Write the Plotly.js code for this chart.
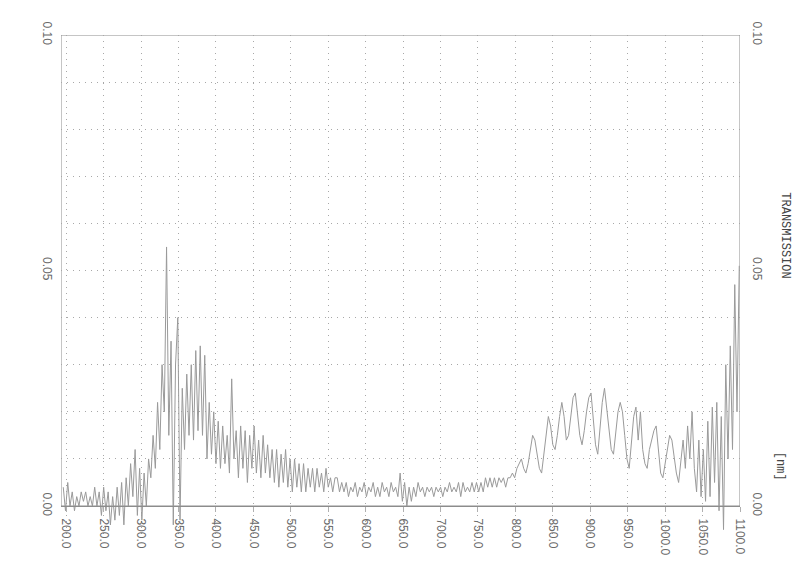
<!DOCTYPE html>
<html><head><meta charset="utf-8">
<script src="https://cdn.plot.ly/plotly-3.0.1.min.js"></script>
<style>html,body{margin:0;padding:0;background:#fff;}#chart{width:800px;height:588px;}</style>
</head><body><div id="chart"></div>
<script>
const wavelengths = [
196,199,202,205,208,211,214,217,220,223,
226,229,232,235,238,241,244,247,250,253,
256,259,262,265,268,271,274,277,280,283,
286,289,292,295,298,301,304,307,310,313,
316,319,322,325,328,331,334,337,340,343,
346,349,352,355,358,361,364,367,370,373,
376,379,382,385,388,391,394,397,400,403,
406,409,412,415,418,421,424,427,430,433,
436,439,442,445,448,451,454,457,460,463,
466,469,472,475,478,481,484,487,490,493,
496,499,502,505,508,511,514,517,520,523,
526,529,532,535,538,541,544,547,550,553,
556,559,562,565,568,571,574,577,580,583,
586,589,592,595,598,601,604,607,610,613,
616,619,622,625,628,631,634,637,640,643,
646,649,652,655,658,661,664,667,670,673,
676,679,682,685,688,691,694,697,700,703,
706,709,712,715,718,721,724,727,730,733,
736,739,742,745,748,751,754,757,760,763,
766,769,772,775,778,781,784,787,790,793,
796,799,802,805,808,811,814,817,820,823,
826,829,832,835,838,841,844,847,850,853,
856,859,862,865,868,871,874,877,880,883,
886,889,892,895,898,901,904,907,910,913,
916,919,922,925,928,931,934,937,940,943,
946,949,952,955,958,961,964,967,970,973,
976,979,982,985,988,991,994,997,1000,1003,
1006,1009,1012,1015,1018,1021,1024,1027,1030,1033,
1036,1039,1042,1045,1048,1051,1054,1057,1060,1063,
1066,1069,1072,1075,1078,1081,1084,1087,1090,1093,
1096,1099];

const transmission = [
0.004,-0.001,0.005,0.000,0.003,-0.001,0.002,0.000,0.003,0.001,
0.003,0.000,0.002,0.000,0.004,0.000,0.003,-0.002,0.004,-0.001,
0.003,-0.004,0.002,-0.003,0.004,-0.002,0.005,-0.004,0.006,0.000,
0.009,0.002,0.012,-0.002,0.008,-0.003,0.007,0.000,0.010,0.006,
0.015,0.008,0.022,0.012,0.030,0.020,0.055,0.015,0.035,-0.004,
0.030,0.040,-0.003,0.025,0.012,0.028,0.015,0.030,0.014,0.033,
0.016,0.034,0.015,0.032,0.010,0.022,0.011,0.020,0.009,0.018,
0.008,0.017,0.009,0.015,0.007,0.027,0.010,0.016,0.006,0.017,
0.008,0.016,0.005,0.015,0.008,0.017,0.007,0.014,0.006,0.015,
0.007,0.013,0.006,0.012,0.005,0.012,0.004,0.011,0.005,0.012,
0.004,0.010,0.003,0.010,0.004,0.009,0.003,0.009,0.003,0.008,
0.004,0.008,0.003,0.008,0.004,0.007,0.003,0.008,0.004,0.006,
0.003,0.006,0.006,0.003,0.005,0.003,0.005,0.002,0.004,0.003,
0.005,0.002,0.004,0.003,0.005,0.002,0.004,0.003,0.005,0.002,
0.004,0.002,0.005,0.003,0.004,0.002,0.005,0.003,0.004,0.002,
0.007,0.001,0.005,0.000,0.004,0.001,0.004,0.002,0.005,0.003,
0.004,0.002,0.004,0.003,0.004,0.002,0.004,0.003,0.004,0.002,
0.004,0.003,0.005,0.003,0.004,0.003,0.005,0.002,0.005,0.003,
0.004,0.003,0.005,0.003,0.005,0.003,0.005,0.003,0.006,0.004,
0.006,0.004,0.006,0.004,0.006,0.005,0.006,0.004,0.006,0.006,
0.007,0.006,0.008,0.009,0.010,0.008,0.007,0.009,0.012,0.015,
0.014,0.011,0.008,0.007,0.011,0.016,0.019,0.017,0.013,0.012,
0.015,0.019,0.022,0.019,0.014,0.015,0.019,0.023,0.024,0.020,
0.015,0.013,0.016,0.020,0.023,0.024,0.019,0.013,0.011,0.016,
0.022,0.025,0.021,0.016,0.012,0.011,0.015,0.020,0.022,0.020,
0.015,0.010,0.008,0.014,0.019,0.021,0.014,0.020,0.012,0.009,
0.008,0.012,0.014,0.016,0.017,0.012,0.007,0.006,0.009,0.012,
0.015,0.014,0.010,0.007,0.005,0.010,0.014,0.008,0.017,0.010,
0.020,0.008,0.003,0.014,0.002,0.012,0.001,0.018,0.002,0.021,
0.005,0.022,-0.001,0.019,-0.005,0.030,0.010,0.034,0.012,0.047,
0.020,0.051];

const xTickValues = [200,250,300,350,400,450,500,550,600,650,700,750,800,850,900,950,1000,1050,1100];
const xTickLabels = ['200.0','250.0','300.0','350.0','400.0','450.0','500.0','550.0','600.0','650.0','700.0','750.0','800.0','850.0','900.0','950.0','1000.0','1050.0','1100.0'];
const yGridValues = [0,0.01,0.02,0.03,0.04,0.05,0.06,0.07,0.08,0.09,0.10];
const yGridLabels = ['0.00','','','','','0.05','','','','','0.10'];
const yLabelValues = [0,0.05,0.10];
const yLabelTexts = ['0.00','0.05','0.10'];

const yMin = -0.007, yMax = 0.10;
const tickFont = {family:'Liberation Sans, Arial, sans-serif', size:12, color:'#6a6a6a'};
const gridDash = '1px,5px';

const traces = [
  {x: wavelengths, y: transmission, type:'scatter', mode:'lines',
   line:{color:'#9a9a9a', width:1}, hoverinfo:'skip', showlegend:false},
  {x: wavelengths, y: transmission, type:'scatter', mode:'lines', yaxis:'y2',
   line:{color:'rgba(0,0,0,0)', width:0}, hoverinfo:'skip', showlegend:false}
];

const layout = {
  width:800, height:588,
  margin:{l:61, r:60, t:35, b:49},
  paper_bgcolor:'#fff', plot_bgcolor:'#fff',
  showlegend:false,
  xaxis:{
    range:[193,1100], anchor:'free', position:(0-yMin)/(yMax-yMin),
    tickmode:'array', tickvals:xTickValues, ticktext:xTickLabels,
    tickangle:90, tickfont:tickFont, ticklabelstandoff:4,
    showgrid:true, gridcolor:'#a8a8a8', gridwidth:1, griddash:gridDash,
    showline:true, linecolor:'#8c8c8c', linewidth:1,
    ticks:'outside', ticklen:5, tickcolor:'#b0b0b0',
    zeroline:false
  },
  yaxis:{
    range:[yMin,yMax], tickmode:'array', tickvals:yGridValues, ticktext:yGridLabels,
    tickangle:90, tickfont:tickFont, ticklabelstandoff:5,
    showgrid:true, gridcolor:'#a8a8a8', gridwidth:1, griddash:gridDash,
    showline:false, zeroline:false, ticks:''
  },
  yaxis2:{
    range:[yMin,yMax], overlaying:'y', side:'right', anchor:'x',
    tickmode:'array', tickvals:yLabelValues, ticktext:yLabelTexts,
    tickangle:90, tickfont:tickFont, ticklabelstandoff:10,
    showgrid:false, showline:false, zeroline:false, ticks:''
  },
  shapes:[
    {type:'rect', xref:'x', yref:'y', x0:193, x1:1100, y0:0, y1:0.10,
     line:{color:'#8c8c8c', width:1}, layer:'below'}
  ],
  annotations:[
    {text:'TRANSMISSION', xref:'paper', yref:'paper', x:1.066, y:0.603,
     showarrow:false, textangle:90, xanchor:'center', yanchor:'middle',
     font:{family:'Liberation Mono, DejaVu Sans Mono, monospace', size:12, color:'#444'}},
    {text:'[nm]', xref:'paper', yref:'paper', x:1.059, y:0.145,
     showarrow:false, textangle:90, xanchor:'center', yanchor:'middle',
     font:{family:'Liberation Mono, DejaVu Sans Mono, monospace', size:12, color:'#444'}}
  ]
};

Plotly.newPlot('chart', traces, layout, {displayModeBar:false, staticPlot:true});
</script>
</body></html>
